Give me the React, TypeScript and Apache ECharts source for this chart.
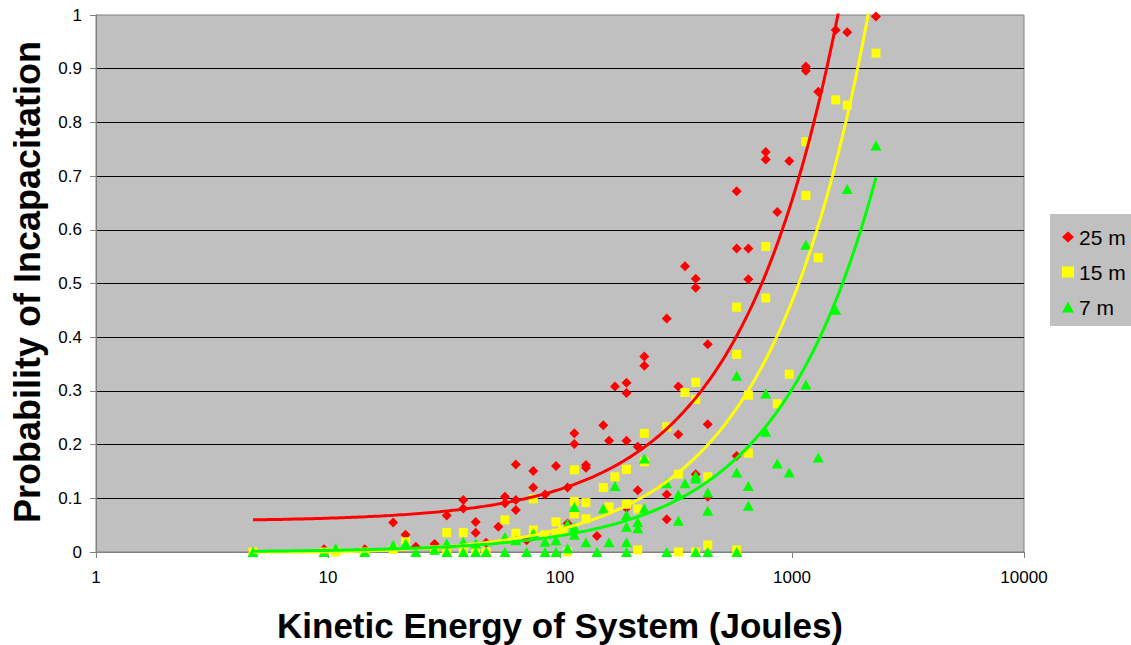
import React, { useEffect, useRef } from "react";
import * as echarts from "echarts";

// Kinetic energy (J) vs. observed probability of incapacitation, per range.
const points25m: [number, number][] = [
  [4.75, 0], [9.61, 0.005], [14.4, 0.005], [19.1, 0.055], [21.6, 0.032], [23.9, 0.01],
  [28.8, 0.015], [32.5, 0.068], [38.3, 0.097], [38.3, 0.081], [43.3, 0.056], [43.3, 0.036],
  [48.0, 0.017], [54.2, 0.047], [57.9, 0.103], [57.9, 0.091], [64.5, 0.163], [64.5, 0.097],
  [64.5, 0.078], [71.8, 0.022], [76.7, 0.151], [76.7, 0.12], [86.2, 0.107], [96.1, 0.16],
  [107.8, 0.053], [107.8, 0.12], [115.3, 0.221], [115.3, 0.201], [129.4, 0.162], [129.4, 0.157],
  [144.3, 0.03], [153.7, 0.236], [162.7, 0.207], [172.6, 0.308], [193.5, 0.315], [193.5, 0.296],
  [193.5, 0.207], [193.5, 0.082], [216.3, 0.196], [216.3, 0.115], [230.9, 0.364], [230.9, 0.347],
  [288.4, 0.435], [288.4, 0.107], [288.4, 0.061], [323.6, 0.308], [323.6, 0.219], [345.8, 0.532],
  [384.6, 0.509], [384.6, 0.492], [384.6, 0.145], [433.3, 0.387], [433.3, 0.238], [433.3, 0.103],
  [577.7, 0.672], [577.7, 0.565], [577.7, 0.179], [648.4, 0.565], [648.4, 0.508], [770.6, 0.745],
  [770.6, 0.731], [864, 0.633], [973, 0.728], [1148, 0.904], [1148, 0.896], [1298, 0.857],
  [1543, 0.972], [1730, 0.968], [2301, 0.997],
];

const points15m: [number, number][] = [
  [4.75, 0], [9.61, 0], [10.8, 0], [14.4, 0], [19.1, 0.005], [21.6, 0.019], [28.8, 0.004],
  [32.5, 0.036], [32.5, 0], [38.3, 0.036], [38.3, 0], [43.3, 0], [48.0, 0], [57.9, 0.06],
  [64.5, 0.035], [76.7, 0.041], [76.7, 0.099], [86.2, 0.032], [96.1, 0.056], [96.1, 0.035],
  [103, 0.041], [107.8, 0], [115.3, 0.153], [115.3, 0.094], [115.3, 0.071], [129.4, 0.092],
  [129.4, 0.062], [153.7, 0.12], [162.7, 0.084], [172.6, 0.14], [193.5, 0.154], [193.5, 0.089],
  [216.3, 0.08], [216.3, 0.004], [230.9, 0.221], [230.9, 0.168], [288.4, 0.233], [323.6, 0.145],
  [323.6, 0], [345.8, 0.297], [384.6, 0.316], [384.6, 0.284], [384.6, 0], [433.3, 0.14],
  [433.3, 0.013], [577.7, 0.456], [577.7, 0.368], [577.7, 0.004], [648.4, 0.292], [648.4, 0.184],
  [770.6, 0.569], [770.6, 0.473], [864, 0.276], [973, 0.331], [1148, 0.764], [1148, 0.664],
  [1298, 0.548], [1543, 0.842], [1730, 0.832], [2301, 0.929],
];

const points7m: [number, number][] = [
  [4.75, 0], [9.61, 0], [10.8, 0.007], [14.4, 0], [19.1, 0.013], [21.6, 0.016], [23.9, 0],
  [28.8, 0.004], [32.5, 0.016], [32.5, 0], [38.3, 0.019], [38.3, 0], [43.3, 0.016], [43.3, 0],
  [48.0, 0], [57.9, 0.028], [57.9, 0], [64.5, 0.022], [71.8, 0], [76.7, 0.035], [86.2, 0.019],
  [86.2, 0], [96.1, 0.022], [96.1, 0], [107.8, 0.052], [107.8, 0.007], [115.3, 0.084],
  [115.3, 0.046], [115.3, 0.032], [129.4, 0.018], [144.3, 0], [153.7, 0.081], [162.7, 0.018],
  [172.6, 0.123], [193.5, 0.069], [193.5, 0.047], [193.5, 0.018], [193.5, 0], [216.3, 0.056],
  [216.3, 0.044], [230.9, 0.174], [230.9, 0.081], [288.4, 0.128], [288.4, 0], [323.6, 0.107],
  [323.6, 0.058], [345.8, 0.128], [384.6, 0.142], [384.6, 0.137], [384.6, 0], [433.3, 0.111],
  [433.3, 0.077], [433.3, 0], [577.7, 0.328], [577.7, 0.148], [577.7, 0], [648.4, 0.123],
  [648.4, 0.086], [770.6, 0.295], [770.6, 0.224], [864, 0.165], [973, 0.148], [1148, 0.572],
  [1148, 0.312], [1298, 0.176], [1543, 0.451], [1730, 0.676], [2301, 0.757],
];

const seriesNames = ["25 m", "15 m", "7 m"];
const seriesPoints = [points25m, points15m, points7m];
const seriesColors = ["#FF0000", "#FFFF00", "#00FF00"];
const seriesSymbols = ["diamond", "rect", "triangle"];

// Linear trendlines y = intercept + slope * x, drawn over each series' x range.
const trendIntercepts = [0.057, -0.005, 0];
const trendSlopes = [5.98e-4, 4.72e-4, 3.03e-4];

const xTickValues = [1, 10, 100, 1000, 10000];

const xTitle = "Kinetic Energy of System (Joules)";
const yTitle = "Probability of Incapacitation";

const FONT = "'Liberation Sans', Arial, sans-serif";

function trendPath(i: number): [number, number][] {
  const xs = seriesPoints[i].map((p) => p[0]);
  const lo = Math.log10(Math.min(...xs));
  const hi = Math.log10(Math.max(...xs));
  const steps = 200;
  const out: [number, number][] = [];
  for (let k = 0; k <= steps; k++) {
    const x = Math.pow(10, lo + ((hi - lo) * k) / steps);
    out.push([x, trendIntercepts[i] + trendSlopes[i] * x]);
  }
  return out;
}

export default function App() {
  const ref = useRef<HTMLDivElement>(null);

  useEffect(() => {
    if (!ref.current) return;
    const chart = echarts.init(ref.current, null, { renderer: "svg" });

    const scatter = seriesNames.map((name, i) => ({
      name,
      type: "scatter",
      data: seriesPoints[i],
      symbol: seriesSymbols[i],
      symbolSize: i === 0 ? 10 : i === 1 ? 9 : [11, 10],
      itemStyle: { color: seriesColors[i], opacity: 1 },
      z: 2 + i,
    }));

    const trends = seriesNames.map((name, i) => ({
      name: name + " trend",
      type: "line",
      data: trendPath(i),
      showSymbol: false,
      symbol: "none",
      smooth: false,
      clip: true,
      lineStyle: { color: seriesColors[i], width: 3 },
      z: 6,
      silent: true,
    }));

    chart.setOption({
      animation: false,
      backgroundColor: "#FFFFFF",
      textStyle: { fontFamily: FONT },
      grid: {
        left: 96,
        right: 107,
        top: 15,
        bottom: 93,
        containLabel: false,
        outerBoundsMode: "none",
        show: true,
        backgroundColor: "#C0C0C0",
        borderColor: "#808080",
        borderWidth: 1,
      },
      legend: {
        data: seriesNames.map((n, i) => ({ name: n, icon: seriesSymbols[i] })),
        orient: "vertical",
        left: 1050,
        top: 214,
        padding: [12, 40, 8, 12],
        itemWidth: 12,
        itemHeight: 11,
        itemGap: 13,
        backgroundColor: "#C0C0C0",
        textStyle: { fontSize: 21, color: "#000", fontFamily: FONT, lineHeight: 22 },
      },
      // Axis titles placed as free text for exact positioning.
      graphic: [
        {
          type: "text",
          x: 560,
          y: 625,
          silent: true,
          style: {
            text: xTitle,
            fontSize: 35,
            fontWeight: "bold",
            fontFamily: FONT,
            fill: "#000",
            align: "center",
            verticalAlign: "middle",
          },
        },
        {
          type: "text",
          x: 27,
          y: 282,
          rotation: Math.PI / 2,
          silent: true,
          style: {
            text: yTitle,
            fontSize: 36,
            fontWeight: "bold",
            fontFamily: FONT,
            fill: "#000",
            align: "center",
            verticalAlign: "middle",
          },
        },
      ],
      xAxis: {
        type: "log",
        logBase: 10,
        min: xTickValues[0],
        max: xTickValues[xTickValues.length - 1],
        axisLine: { show: true, lineStyle: { color: "#808080", width: 1 } },
        axisTick: { show: true, inside: false, length: 6, lineStyle: { color: "#808080" } },
        minorTick: { show: false },
        splitLine: { show: false },
        axisLabel: {
          fontSize: 17,
          color: "#000",
          margin: 17,
          formatter: (v: number) => String(Math.round(v)),
        },
      },
      yAxis: {
        type: "value",
        min: 0,
        max: 1,
        interval: 0.1,
        axisLine: { show: true, lineStyle: { color: "#808080", width: 1 } },
        axisTick: { show: true, inside: false, length: 6, lineStyle: { color: "#808080" } },
        splitLine: { show: true, showMaxLine: false, lineStyle: { color: "#000", width: 1 } },
        axisLabel: { fontSize: 17, color: "#000", margin: 14 },
      },
      series: [...scatter, ...trends],
    });

    return () => chart.dispose();
  }, []);

  return (
    <div
      ref={ref}
      style={{ position: "fixed", left: 0, top: 0, width: 1131, height: 645, overflow: "hidden" }}
    />
  );
}
